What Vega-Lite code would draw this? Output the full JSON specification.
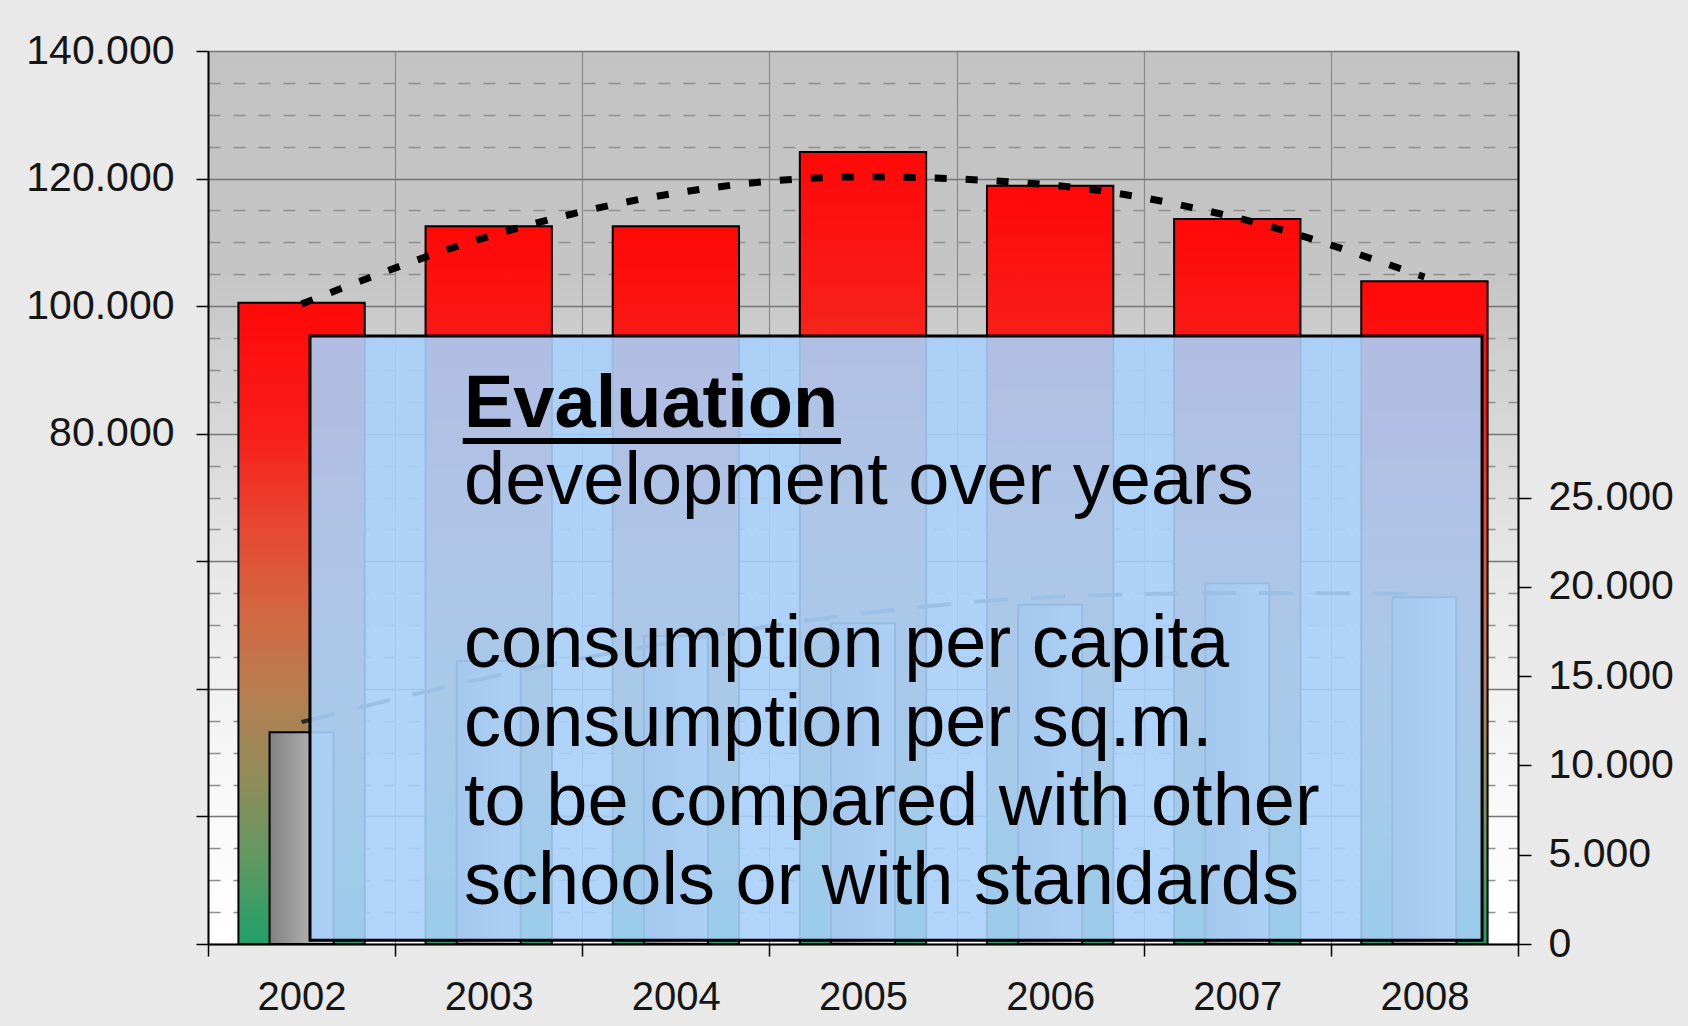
{
  "$schema": "https://vega.github.io/schema/vega-lite/v6.json",
  "width": 1310,
  "height": 893,
  "autosize": {"type": "none"},
  "padding": {"left": 208, "top": 51, "right": 170, "bottom": 82},
  "background": "#e9e9e9",
  "view": {
    "stroke": null,
    "fill": {
      "gradient": "linear", "x1": 0, "y1": 0, "x2": 0, "y2": 1,
      "stops": [
        {"offset": 0, "color": "#c3c3c3"},
        {"offset": 0.25, "color": "#c5c5c5"},
        {"offset": 0.32, "color": "#cdcdcd"},
        {"offset": 0.45, "color": "#dadada"},
        {"offset": 0.6, "color": "#e9e9e9"},
        {"offset": 0.8, "color": "#f7f7f7"},
        {"offset": 1, "color": "#ffffff"}
      ]
    }
  },
  "config": {
    "font": "Liberation Sans",
    "axisX": {
      "labelAngle": 0, "labelFontSize": 40, "labelColor": "#151515",
      "labelPadding": 53, "labelBaseline": "alphabetic", "tickBand": "extent",
      "tickSize": 12, "tickColor": "black", "tickWidth": 1.5,
      "domainColor": "black", "domainWidth": 2,
      "grid": true, "gridColor": "#8a8a8a", "gridWidth": 1.2
    }
  },
  "datasets": {
    "main": [
      {"year": "2002", "total": 100520, "trend": 100330, "sqm": 11850, "trend2": 12430},
      {"year": "2003", "total": 112530, "trend": 110920, "sqm": 15850, "trend2": 14930},
      {"year": "2004", "total": 112530, "trend": 117730, "sqm": 17250, "trend2": 16940},
      {"year": "2005", "total": 124180, "trend": 120270, "sqm": 17960, "trend2": 18510},
      {"year": "2006", "total": 118880, "trend": 118990, "sqm": 19000, "trend2": 19430},
      {"year": "2007", "total": 113680, "trend": 113820, "sqm": 20200, "trend2": 19650},
      {"year": "2008", "total": 103890, "trend": 104570, "sqm": 19410, "trend2": 19600}
    ],
    "notes": [
      {"kind": "title", "line": "Evaluation", "year": "2003", "v": 81050},
      {"kind": "body", "line": "development over years", "year": "2003", "v": 68980},
      {"kind": "body", "line": "consumption per capita", "year": "2003", "v": 43425},
      {"kind": "body", "line": "consumption per sq.m.", "year": "2003", "v": 31040},
      {"kind": "body", "line": "to be compared with other", "year": "2003", "v": 18656},
      {"kind": "body", "line": "schools or with standards", "year": "2003", "v": 6271}
    ]
  },
  "layer": [
    {
      "data": {"name": "main"},
      "encoding": {
        "x": {
          "field": "year", "type": "nominal",
          "scale": {"domain": ["2002", "2003", "2004", "2005", "2006", "2007", "2008"], "paddingInner": 0, "paddingOuter": 0},
          "axis": {"title": null}
        }
      },
      "layer": [
        {
          "mark": {
            "type": "bar", "width": {"band": 0.675}, "stroke": "black", "strokeWidth": 2,
            "color": {
              "gradient": "linear", "x1": 0, "y1": 0, "x2": 0, "y2": 1,
              "stops": [
                {"offset": 0, "color": "#ff0808"},
                {"offset": 0.2, "color": "#f81e18"},
                {"offset": 0.35, "color": "#e84832"},
                {"offset": 0.5, "color": "#cf6a44"},
                {"offset": 0.62, "color": "#b48052"},
                {"offset": 0.75, "color": "#8e8c5a"},
                {"offset": 0.88, "color": "#5a9a62"},
                {"offset": 1, "color": "#20a06a"}
              ]
            }
          },
          "encoding": {
            "y": {
              "field": "total", "type": "quantitative",
              "scale": {"domain": [0, 140000], "nice": false, "zero": true},
              "axis": {
                "title": null, "orient": "left", "tickCount": 100,
                "values": [0, 5000, 10000, 15000, 20000, 25000, 30000, 35000, 40000, 45000, 50000, 55000, 60000, 65000, 70000, 75000, 80000, 85000, 90000, 95000, 100000, 105000, 110000, 115000, 120000, 125000, 130000, 135000, 140000],
                "labelExpr": "datum.value >= 80000 && datum.value % 20000 === 0 ? replace(format(datum.value, ','), ',', '.') : ''",
                "labelFontSize": 41, "labelColor": "#151515", "labelPadding": 22, "labelBaseline": "middle", "labelOverlap": false,
                "tickSize": 12, "tickColor": "black", "tickWidth": 1.5,
                "tickOpacity": {"condition": {"test": "datum.value % 20000 === 0", "value": 1}, "value": 0},
                "domainColor": "black", "domainWidth": 2,
                "grid": true, "gridWidth": 1.3,
                "gridColor": {"condition": {"test": "datum.value % 20000 === 0", "value": "#767676"}, "value": "#8e8e8e"},
                "gridDash": {"condition": {"test": "datum.value % 20000 === 0", "value": []}, "value": [12, 13]}
              }
            }
          }
        },
        {
          "mark": {"type": "line", "color": "black", "strokeWidth": 7, "strokeDash": [12, 19], "interpolate": "monotone", "strokeCap": "butt"},
          "encoding": {"y": {"field": "trend", "type": "quantitative"}}
        }
      ]
    },
    {
      "data": {"name": "main"},
      "encoding": {"x": {"field": "year", "type": "nominal", "axis": {"title": null}}},
      "layer": [
        {
          "mark": {
            "type": "bar", "width": {"band": 0.342}, "stroke": "black", "strokeWidth": 2,
            "color": {
              "gradient": "linear", "x1": 0, "y1": 0, "x2": 1, "y2": 0,
              "stops": [{"offset": 0, "color": "#808080"}, {"offset": 1, "color": "#cacaca"}]
            }
          },
          "encoding": {
            "y": {
              "field": "sqm", "type": "quantitative",
              "scale": {"domain": [0, 50000], "nice": false, "zero": true},
              "axis": {
                "title": null, "orient": "right", "tickCount": 100,
                "values": [0, 5000, 10000, 15000, 20000, 25000],
                "labelExpr": "replace(format(datum.value, ','), ',', '.')",
                "labelFontSize": 41, "labelColor": "#151515", "labelPadding": 17, "labelBaseline": "middle", "labelOverlap": false,
                "tickSize": 13, "tickColor": "black", "tickWidth": 1.5,
                "domainColor": "black", "domainWidth": 2, "grid": false
              }
            }
          }
        },
        {
          "mark": {"type": "line", "color": "#2a2a2a", "strokeWidth": 4, "strokeDash": [34, 23], "interpolate": "monotone"},
          "encoding": {"y": {"field": "trend2", "type": "quantitative"}}
        }
      ]
    },
    {
      "layer": [
        {
          "data": {"values": [{"year": "2002", "year2": "2008", "top": 95316, "bottom": 600}]},
          "mark": {"type": "rect", "fill": "#a8d0f9", "fillOpacity": 0.9, "stroke": "black", "strokeWidth": 3},
          "encoding": {
            "x": {"field": "year", "type": "nominal", "bandPosition": 0.545, "axis": {"title": null}},
            "x2": {"field": "year2", "bandPosition": 0.808},
            "y": {"field": "top", "type": "quantitative", "scale": {"domain": [0, 140000], "nice": false}, "axis": null},
            "y2": {"field": "bottom"}
          }
        },
        {
          "data": {"name": "notes"},
          "transform": [{"filter": "datum.kind == 'title'"}],
          "mark": {"type": "text", "align": "left", "baseline": "alphabetic", "fontSize": 74, "fontWeight": "bold", "color": "black", "font": "Liberation Sans"},
          "encoding": {
            "x": {"field": "year", "type": "nominal", "bandPosition": 0.368, "axis": {"title": null}},
            "y": {"field": "v", "type": "quantitative", "axis": null},
            "text": {"field": "line"}
          }
        },
        {
          "data": {"name": "notes"},
          "transform": [{"filter": "datum.kind == 'body'"}],
          "mark": {"type": "text", "align": "left", "baseline": "alphabetic", "fontSize": 74, "color": "black", "font": "Liberation Sans"},
          "encoding": {
            "x": {"field": "year", "type": "nominal", "bandPosition": 0.368, "axis": {"title": null}},
            "y": {"field": "v", "type": "quantitative", "axis": null},
            "text": {"field": "line"}
          }
        },
        {
          "data": {"values": [{"year": "2003", "year2": "2005", "v": 78855}]},
          "mark": {"type": "rule", "color": "black", "strokeWidth": 6, "strokeCap": "butt"},
          "encoding": {
            "x": {"field": "year", "type": "nominal", "bandPosition": 0.361, "axis": {"title": null}},
            "x2": {"field": "year2", "bandPosition": 0.382},
            "y": {"field": "v", "type": "quantitative", "axis": null}
          }
        }
      ]
    }
  ],
  "resolve": {"scale": {"y": "independent"}, "axis": {"y": "independent"}}
}
